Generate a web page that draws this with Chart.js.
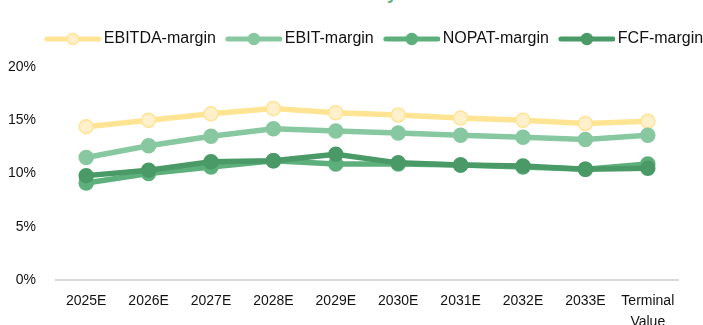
<!DOCTYPE html>
<html>
<head>
<meta charset="utf-8">
<script src="https://cdn.jsdelivr.net/npm/chart.js@4/dist/chart.umd.min.js"></script>
<style>
  html, body { margin: 0; padding: 0; overflow: hidden; background: #fff; }
  body { width: 703px; height: 325px; position: relative; }
  #title {
    position: absolute; left: 298px; top: -16px; margin: 0;
    font: bold 18px "Liberation Sans", Arial, sans-serif; line-height: 1;
    color: #5bb07b; white-space: nowrap;
  }
  #wrap { position: absolute; left: 0; top: 0; width: 748px; height: 342px; }
</style>
</head>
<body>
<h2 id="title">Profitability</h2>
<div id="wrap"><canvas id="marginChart"></canvas></div>
<script>
const years = ["2025E", "2026E", "2027E", "2028E", "2029E", "2030E", "2031E", "2032E", "2033E", ["Terminal", "Value"]];
const ebitdaMargin = [14.4, 15.0, 15.6, 16.1, 15.7, 15.5, 15.2, 15.0, 14.7, 14.9];
const ebitMargin = [11.5, 12.6, 13.5, 14.2, 14.0, 13.8, 13.6, 13.4, 13.2, 13.6];
const nopatMargin = [9.1, 10.0, 10.6, 11.2, 10.9, 10.9, 10.8, 10.6, 10.4, 10.9];
const fcfMargin = [9.8, 10.3, 11.1, 11.2, 11.8, 11.0, 10.8, 10.7, 10.4, 10.5];
const yTicks = [0, 5, 10, 15, 20];

const FONT = "'Liberation Sans', Arial, sans-serif";

const series = [
  { label: "EBITDA-margin", data: ebitdaMargin, line: "#ffe493", fill: "#fff0cc" },
  { label: "EBIT-margin", data: ebitMargin, line: "#88c8a0", fill: "#88c8a0" },
  { label: "NOPAT-margin", data: nopatMargin, line: "#5db07b", fill: "#5db07b" },
  { label: "FCF-margin", data: fcfMargin, line: "#4a9a67", fill: "#4a9a67" },
];

// legend swatch: short thick line with a dot in the middle
function legendIcon(s) {
  const c = document.createElement("canvas");
  c.width = 61;
  c.height = 16;
  const g = c.getContext("2d");
  g.strokeStyle = s.line;
  g.lineWidth = 5;
  g.lineCap = "round";
  g.beginPath();
  g.moveTo(7, 8);
  g.lineTo(59, 8);
  g.stroke();
  g.beginPath();
  g.arc(33, 8, 5.5, 0, Math.PI * 2);
  g.fillStyle = s.fill;
  g.fill();
  g.lineWidth = 1.5;
  g.stroke();
  return c;
}

const icons = series.map(legendIcon);

// leave some room between the legend row and the plot
const legendGap = {
  id: "legendGap",
  beforeInit(chart) {
    const fit = chart.legend.fit;
    chart.legend.fit = function () {
      fit.call(this);
      this.height += 10;
    };
  },
};

new Chart(document.getElementById("marginChart"), {
  type: "line",
  data: {
    labels: years,
    datasets: series.map((s, i) => ({
      label: s.label,
      data: s.data,
      borderColor: s.line,
      backgroundColor: s.fill,
      borderWidth: 5.5,
      pointRadius: 7,
      pointBorderWidth: 1.5,
      pointBorderColor: s.line,
      pointBackgroundColor: s.fill,
      tension: 0,
      order: series.length - i,
    })),
  },
  plugins: [legendGap],
  options: {
    responsive: true,
    maintainAspectRatio: false,
    animation: false,
    layout: { padding: { top: 21, left: 0, right: 0, bottom: 0 } },
    plugins: {
      tooltip: { enabled: false },
      legend: {
        position: "top",
        labels: {
          usePointStyle: true,
          pointStyleWidth: 51,
          padding: 10,
          color: "#111",
          font: { family: FONT, size: 16 },
          sort: (a, b) => a.datasetIndex - b.datasetIndex,
          generateLabels: (chart) =>
            Chart.defaults.plugins.legend.labels.generateLabels(chart).map((item) => ({
              ...item,
              pointStyle: icons[item.datasetIndex],
            })),
        },
      },
    },
    scales: {
      x: {
        offset: true,
        grid: { display: false, drawTicks: false },
        border: { display: false },
        afterFit: (s) => { s.height = 62; },
        ticks: {
          color: "#111",
          padding: 11,
          maxRotation: 0,
          autoSkip: false,
          font: { family: FONT, size: 14, lineHeight: 1.5 },
        },
      },
      y: {
        min: 0,
        max: 20,
        afterBuildTicks: (axis) => {
          axis.ticks = yTicks.map((v) => ({ value: v }));
        },
        afterFit: (s) => { s.width = 55; },
        grid: {
          drawTicks: false,
          lineWidth: 2,
          color: (ctx) => (ctx.tick && ctx.tick.value === 0 ? "#d9d9d9" : "rgba(0,0,0,0)"),
        },
        border: { display: false },
        ticks: {
          color: "#111",
          padding: 19,
          font: { family: FONT, size: 14 },
          callback: (v) => v + "%",
        },
      },
      // empty right-hand axis that only reserves space
      yRight: {
        position: "right",
        grid: { display: false, drawTicks: false },
        border: { display: false },
        ticks: { display: false },
        afterFit: (s) => { s.width = 69; },
      },
    },
  },
});
</script>
</body>
</html>
